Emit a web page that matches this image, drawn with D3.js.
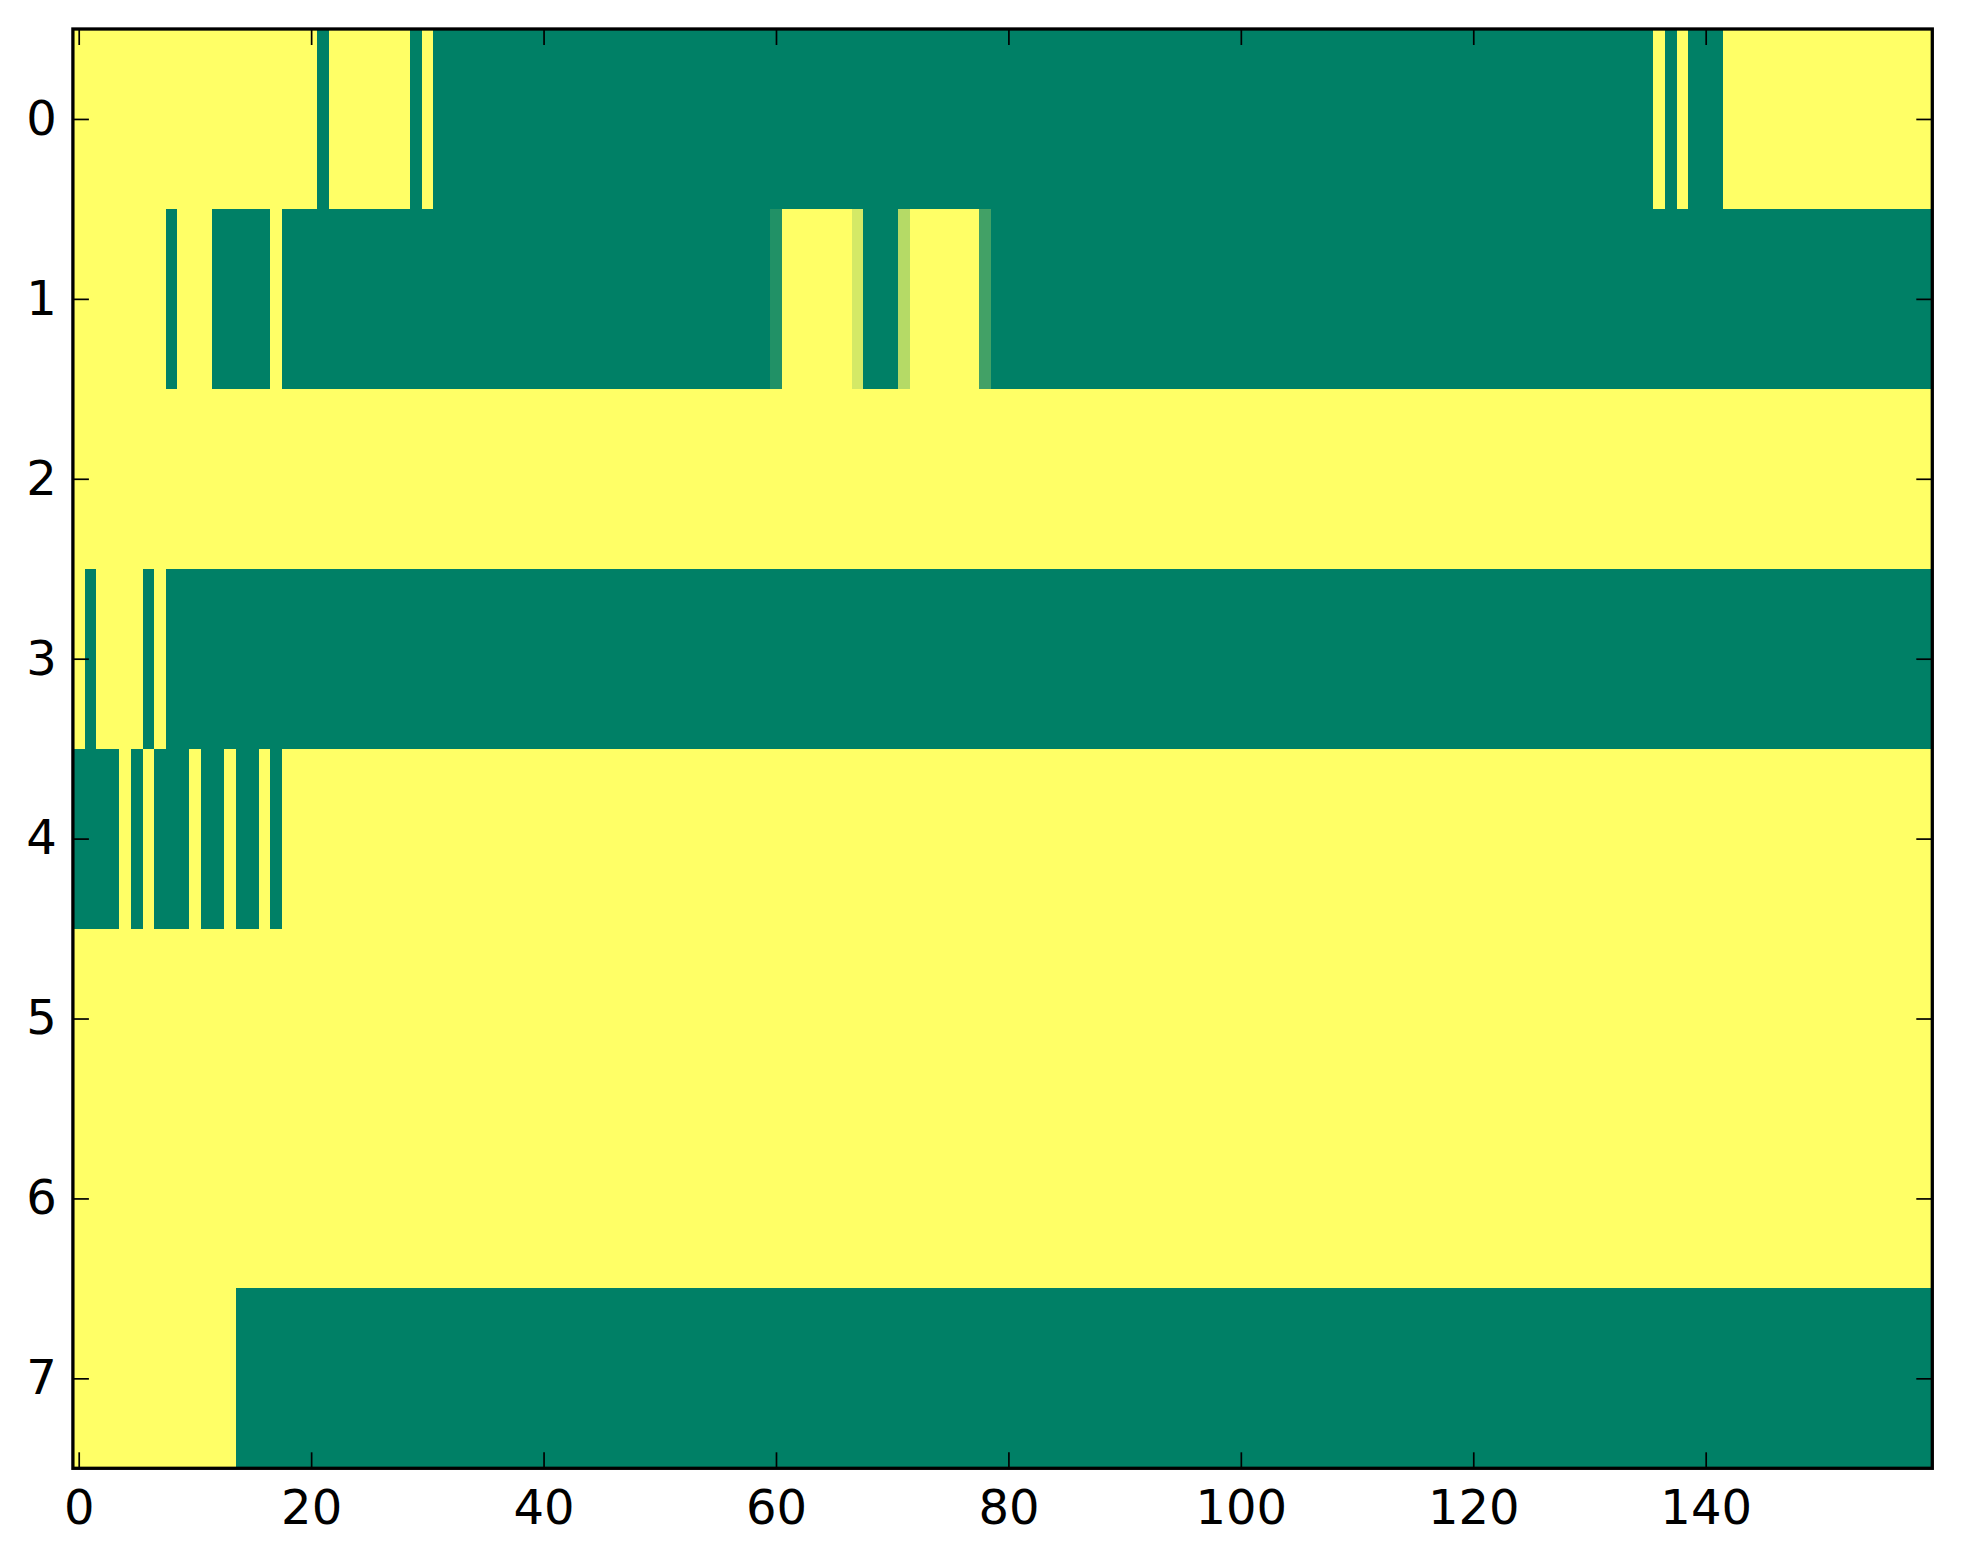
<!DOCTYPE html>
<html>
<head>
<meta charset="utf-8">
<script src="https://cdn.jsdelivr.net/npm/d3@7"></script>
<style>
  body { margin: 0; background: #fff; }
  text { font-family: "DejaVu Sans", sans-serif; }
</style>
</head>
<body>
<svg id="chart" width="1963" height="1564"></svg>
<script>
// one array of 160 cell values per row (0 = dark end of the map, 1 = light end)
var row0 = [
  1,1,1,1,1,1,1,1,1,1,1,1,1,1,1,1,1,1,1,1,
  1,0,1,1,1,1,1,1,1,0,1,0,0,0,0,0,0,0,0,0,
  0,0,0,0,0,0,0,0,0,0,0,0,0,0,0,0,0,0,0,0,
  0,0,0,0,0,0,0,0,0,0,0,0,0,0,0,0,0,0,0,0,
  0,0,0,0,0,0,0,0,0,0,0,0,0,0,0,0,0,0,0,0,
  0,0,0,0,0,0,0,0,0,0,0,0,0,0,0,0,0,0,0,0,
  0,0,0,0,0,0,0,0,0,0,0,0,0,0,0,0,1,0,1,0,
  0,0,1,1,1,1,1,1,1,1,1,1,1,1,1,1,1,1,1,1
];
var row1 = [
  1,1,1,1,1,1,1,1,0,1,1,1,0,0,0,0,0,1,0,0,
  0,0,0,0,0,0,0,0,0,0,0,0,0,0,0,0,0,0,0,0,
  0,0,0,0,0,0,0,0,0,0,0,0,0,0,0,0,0,0,0,0,
  0.13,1,1,1,1,1,1,0.83,0,0,0,0.71,1,1,1,1,1,1,0.26,0,
  0,0,0,0,0,0,0,0,0,0,0,0,0,0,0,0,0,0,0,0,
  0,0,0,0,0,0,0,0,0,0,0,0,0,0,0,0,0,0,0,0,
  0,0,0,0,0,0,0,0,0,0,0,0,0,0,0,0,0,0,0,0,
  0,0,0,0,0,0,0,0,0,0,0,0,0,0,0,0,0,0,0,0
];
var row2 = [
  1,1,1,1,1,1,1,1,1,1,1,1,1,1,1,1,1,1,1,1,
  1,1,1,1,1,1,1,1,1,1,1,1,1,1,1,1,1,1,1,1,
  1,1,1,1,1,1,1,1,1,1,1,1,1,1,1,1,1,1,1,1,
  1,1,1,1,1,1,1,1,1,1,1,1,1,1,1,1,1,1,1,1,
  1,1,1,1,1,1,1,1,1,1,1,1,1,1,1,1,1,1,1,1,
  1,1,1,1,1,1,1,1,1,1,1,1,1,1,1,1,1,1,1,1,
  1,1,1,1,1,1,1,1,1,1,1,1,1,1,1,1,1,1,1,1,
  1,1,1,1,1,1,1,1,1,1,1,1,1,1,1,1,1,1,1,1
];
var row3 = [
  1,0,1,1,1,1,0,1,0,0,0,0,0,0,0,0,0,0,0,0,
  0,0,0,0,0,0,0,0,0,0,0,0,0,0,0,0,0,0,0,0,
  0,0,0,0,0,0,0,0,0,0,0,0,0,0,0,0,0,0,0,0,
  0,0,0,0,0,0,0,0,0,0,0,0,0,0,0,0,0,0,0,0,
  0,0,0,0,0,0,0,0,0,0,0,0,0,0,0,0,0,0,0,0,
  0,0,0,0,0,0,0,0,0,0,0,0,0,0,0,0,0,0,0,0,
  0,0,0,0,0,0,0,0,0,0,0,0,0,0,0,0,0,0,0,0,
  0,0,0,0,0,0,0,0,0,0,0,0,0,0,0,0,0,0,0,0
];
var row4 = [
  0,0,0,0,1,0,1,0,0,0,1,0,0,1,0,0,1,0,1,1,
  1,1,1,1,1,1,1,1,1,1,1,1,1,1,1,1,1,1,1,1,
  1,1,1,1,1,1,1,1,1,1,1,1,1,1,1,1,1,1,1,1,
  1,1,1,1,1,1,1,1,1,1,1,1,1,1,1,1,1,1,1,1,
  1,1,1,1,1,1,1,1,1,1,1,1,1,1,1,1,1,1,1,1,
  1,1,1,1,1,1,1,1,1,1,1,1,1,1,1,1,1,1,1,1,
  1,1,1,1,1,1,1,1,1,1,1,1,1,1,1,1,1,1,1,1,
  1,1,1,1,1,1,1,1,1,1,1,1,1,1,1,1,1,1,1,1
];
var row5 = [
  1,1,1,1,1,1,1,1,1,1,1,1,1,1,1,1,1,1,1,1,
  1,1,1,1,1,1,1,1,1,1,1,1,1,1,1,1,1,1,1,1,
  1,1,1,1,1,1,1,1,1,1,1,1,1,1,1,1,1,1,1,1,
  1,1,1,1,1,1,1,1,1,1,1,1,1,1,1,1,1,1,1,1,
  1,1,1,1,1,1,1,1,1,1,1,1,1,1,1,1,1,1,1,1,
  1,1,1,1,1,1,1,1,1,1,1,1,1,1,1,1,1,1,1,1,
  1,1,1,1,1,1,1,1,1,1,1,1,1,1,1,1,1,1,1,1,
  1,1,1,1,1,1,1,1,1,1,1,1,1,1,1,1,1,1,1,1
];
var row6 = [
  1,1,1,1,1,1,1,1,1,1,1,1,1,1,1,1,1,1,1,1,
  1,1,1,1,1,1,1,1,1,1,1,1,1,1,1,1,1,1,1,1,
  1,1,1,1,1,1,1,1,1,1,1,1,1,1,1,1,1,1,1,1,
  1,1,1,1,1,1,1,1,1,1,1,1,1,1,1,1,1,1,1,1,
  1,1,1,1,1,1,1,1,1,1,1,1,1,1,1,1,1,1,1,1,
  1,1,1,1,1,1,1,1,1,1,1,1,1,1,1,1,1,1,1,1,
  1,1,1,1,1,1,1,1,1,1,1,1,1,1,1,1,1,1,1,1,
  1,1,1,1,1,1,1,1,1,1,1,1,1,1,1,1,1,1,1,1
];
var row7 = [
  1,1,1,1,1,1,1,1,1,1,1,1,1,1,0,0,0,0,0,0,
  0,0,0,0,0,0,0,0,0,0,0,0,0,0,0,0,0,0,0,0,
  0,0,0,0,0,0,0,0,0,0,0,0,0,0,0,0,0,0,0,0,
  0,0,0,0,0,0,0,0,0,0,0,0,0,0,0,0,0,0,0,0,
  0,0,0,0,0,0,0,0,0,0,0,0,0,0,0,0,0,0,0,0,
  0,0,0,0,0,0,0,0,0,0,0,0,0,0,0,0,0,0,0,0,
  0,0,0,0,0,0,0,0,0,0,0,0,0,0,0,0,0,0,0,0,
  0,0,0,0,0,0,0,0,0,0,0,0,0,0,0,0,0,0,0,0
];
var rows = [row0, row1, row2, row3, row4, row5, row6, row7];

var xTickValues = [0, 20, 40, 60, 80, 100, 120, 140];
var yTickValues = [0, 1, 2, 3, 4, 5, 6, 7];

var margin = { left: 72.9, top: 29, right: 1963 - 1932.3, bottom: 1564 - 1468.3 };
var width = 1963 - margin.left - margin.right;
var height = 1564 - margin.top - margin.bottom;

var svg = d3.select('#chart');
var g = svg.append('g')
  .attr('transform', 'translate(' + margin.left + ',' + margin.top + ')');

var x = d3.scaleLinear().domain([-0.5, rows[0].length - 0.5]).range([0, width]);
var y = d3.scaleLinear().domain([-0.5, rows.length - 0.5]).range([0, height]);

// summer colour map, dark green to light yellow
var color = d3.scaleLinear().domain([0, 1])
  .range(['#008066', '#ffff66'])
  .interpolate(d3.interpolateRgb);

// flatten into cells
var cells = [];
rows.forEach(function (r, ri) {
  r.forEach(function (v, ci) {
    cells.push({ row: ri, col: ci, value: v });
  });
});

g.append('g')
  .attr('class', 'cells')
  .selectAll('rect')
  .data(cells)
  .enter()
  .append('rect')
  .attr('x', function (d) { return x(d.col - 0.5); })
  .attr('y', function (d) { return y(d.row - 0.5); })
  .attr('width', function (d) { return x(d.col + 0.5) - x(d.col - 0.5) + 0.3; })
  .attr('height', function (d) { return y(d.row + 0.5) - y(d.row - 0.5) + 0.3; })
  .attr('fill', function (d) { return color(d.value); })
  .attr('shape-rendering', 'crispEdges');

// ticks point inward on all four sides
var tickLen = 16;

function styleAxis(sel, labels) {
  sel.select('.domain').remove();
  sel.selectAll('.tick line').attr('stroke', '#000').attr('stroke-width', 1.7);
  sel.selectAll('.tick text')
    .attr('fill', '#000')
    .style('font-size', '48px')
    .style('font-family', '"DejaVu Sans", sans-serif');
  if (!labels) sel.selectAll('.tick text').remove();
}

g.append('g')
  .attr('transform', 'translate(0,' + height + ')')
  .call(d3.axisBottom(x).tickValues(xTickValues).tickSizeInner(-tickLen).tickSizeOuter(0).tickPadding(22))
  .call(styleAxis, true);

g.append('g')
  .call(d3.axisTop(x).tickValues(xTickValues).tickSizeInner(-tickLen).tickSizeOuter(0))
  .call(styleAxis, false);

g.append('g')
  .call(d3.axisLeft(y).tickValues(yTickValues).tickSizeInner(-tickLen).tickSizeOuter(0).tickPadding(16))
  .call(styleAxis, true);

g.append('g')
  .attr('transform', 'translate(' + width + ',0)')
  .call(d3.axisRight(y).tickValues(yTickValues).tickSizeInner(-tickLen).tickSizeOuter(0))
  .call(styleAxis, false);

// frame
g.append('rect')
  .attr('x', 0)
  .attr('y', 0)
  .attr('width', width)
  .attr('height', height)
  .attr('fill', 'none')
  .attr('stroke', '#000')
  .attr('stroke-width', 3.3);
</script>
</body>
</html>
